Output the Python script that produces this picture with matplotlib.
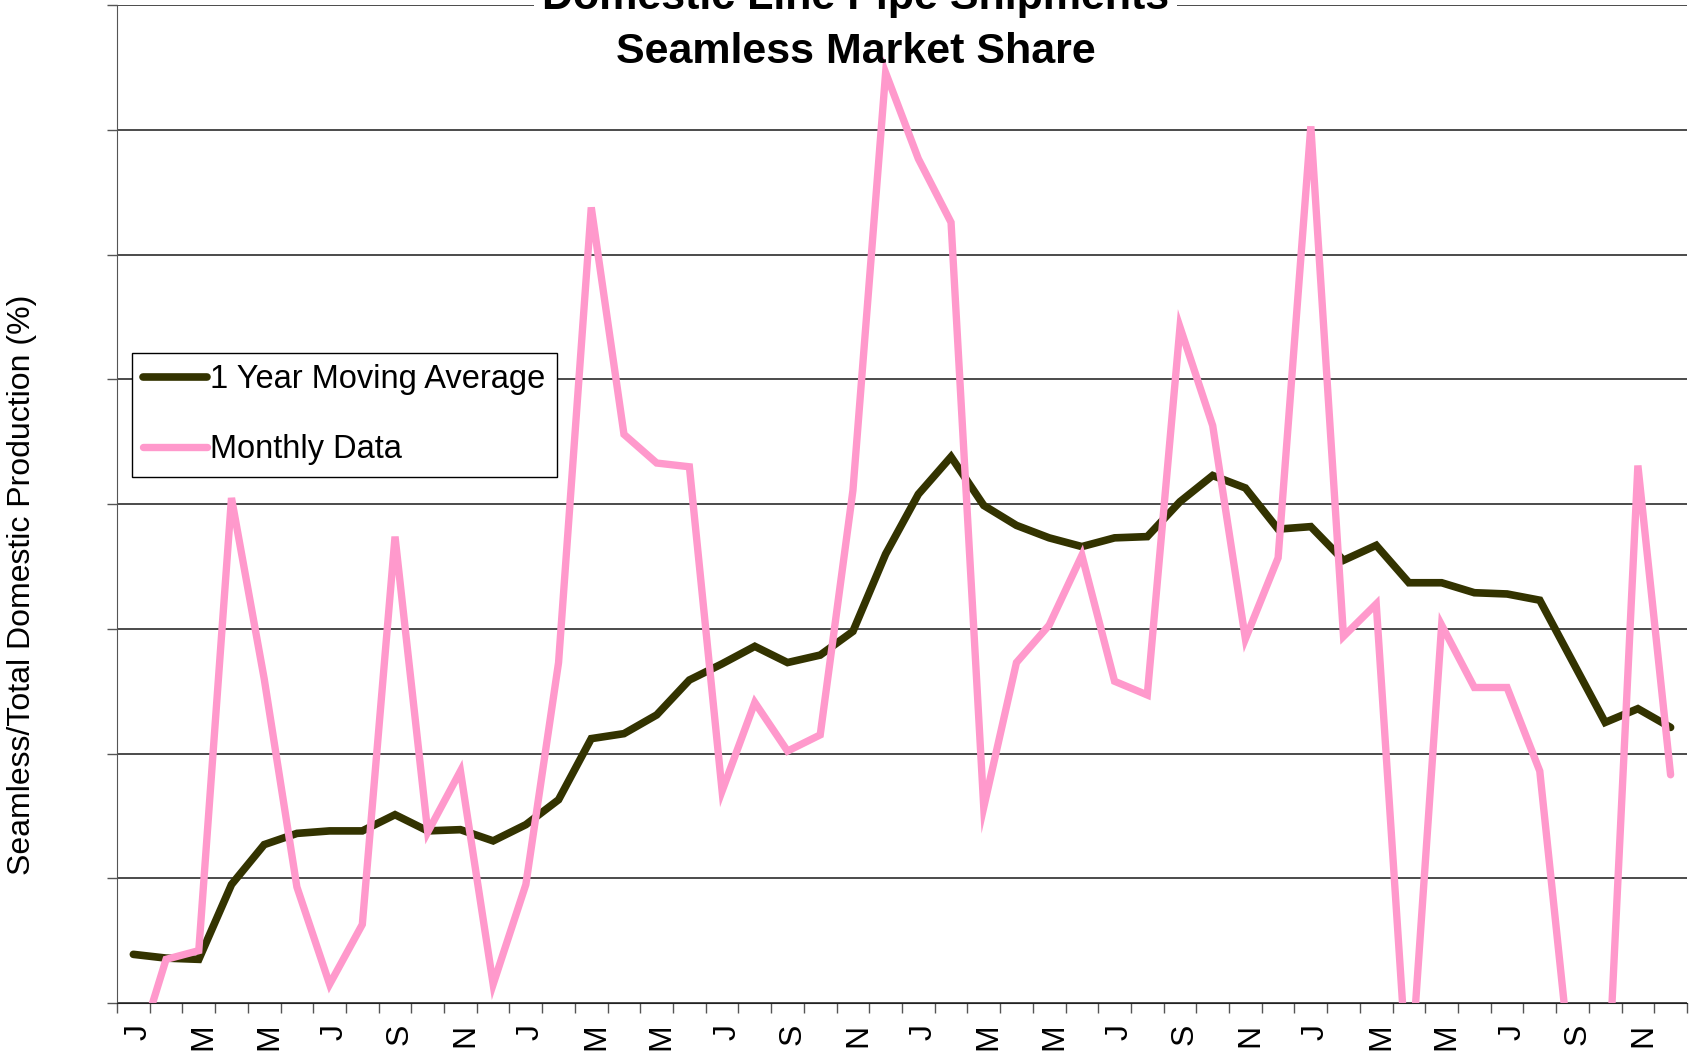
import numpy as np
import matplotlib
matplotlib.use("Agg")
import matplotlib.pyplot as plt
from matplotlib.transforms import ScaledTranslation

plt.rcParams['font.family'] = ['Liberation Sans', 'DejaVu Sans']

# month initials, 4 years of monthly data (labels shown every other month)
months = ["J", "F", "M", "A", "M", "J", "J", "A", "S", "O", "N", "D"] * 4

# 1 year moving average (%)
moving_avg = [3.9, 3.6, 3.5, 9.5, 12.7, 13.6, 13.8, 13.8, 15.1, 13.8, 13.9, 13.0,
              14.3, 16.3, 21.2, 21.6, 23.1, 25.9, 27.2, 28.6, 27.3, 27.9, 29.8, 36.0,
              40.8, 43.8, 39.9, 38.3, 37.3, 36.6, 37.3, 37.4, 40.2, 42.3, 41.3, 38.0,
              38.2, 35.5, 36.7, 33.7, 33.7, 32.9, 32.8, 32.3, 27.4, 22.5, 23.6, 22.1]

# monthly data (%)
monthly = [-5.0, 3.5, 4.2, 40.5, 26.0, 9.3, 1.5, 6.3, 37.4, 13.7, 18.6, 1.5,
           9.5, 27.3, 63.8, 45.6, 43.3, 43.0, 17.0, 24.1, 20.2, 21.5, 41.1, 74.6,
           67.7, 62.6, 15.7, 27.3, 30.3, 35.9, 25.8, 24.7, 54.2, 46.3, 29.2, 35.7,
           70.3, 29.4, 32.0, -7.8, 30.3, 25.3, 25.3, 18.6, -6.4, -11.4, 43.1, 18.3]

x = np.arange(len(monthly))

fig = plt.figure(figsize=(16.91, 10.57), dpi=100)
ax = fig.add_axes([0.0692, 0.0511, 0.9976 - 0.0692, 0.9949 - 0.0511])

ax.plot(x, moving_avg, color='#333300', linewidth=5.5, label="1 Year Moving Average",
        solid_joinstyle='miter', solid_capstyle='round')
ax.plot(x, monthly, color='#FF99CC', linewidth=5.3, label="Monthly Data",
        solid_joinstyle='miter', solid_capstyle='round')

ax.set_xlim(-0.5, len(monthly) - 0.5)
ax.set_ylim(0, 80)

# y axis: gridlines, no labels
ax.set_yticks(np.arange(0, 81, 10))
ax.set_yticklabels([])
ax.yaxis.grid(True, color='#1a1a1a', linewidth=1.1)
ax.set_axisbelow(True)
ax.tick_params(axis='y', length=7, width=1, color='#555555')

# x axis: tick marks between months, labels every other month
ax.set_xticks(np.arange(len(monthly) + 1) - 0.5)
ax.set_xticklabels([])
ax.set_xticks(x[::2], minor=True)
ax.set_xticklabels(months[::2], minor=True, rotation=90, fontsize=23)
ax.tick_params(axis='x', which='major', length=7.5, width=1, color='#555555')
ax.tick_params(axis='x', which='minor', length=0, pad=15)
shift = ScaledTranslation(5 / 100, 0, fig.dpi_scale_trans)
for lab in ax.get_xticklabels(minor=True):
    lab.set_transform(lab.get_transform() + shift)

for s in ['top', 'right']:
    ax.spines[s].set_visible(False)
ax.spines['left'].set_color('#555555')
ax.spines['bottom'].set_color('#222222')

fig.text(0.0128, 0.447, "Seamless/Total Domestic Production (%)", rotation=90,
         ha='center', va='center', fontsize=23)

fig.text(0.506, 0.9919, "Domestic Line Pipe Shipments", ha='center', va='baseline',
         fontsize=31, fontweight='bold',
         bbox=dict(facecolor='white', edgecolor='none', pad=6))
fig.text(0.506, 0.9404, "Seamless Market Share", ha='center', va='baseline',
         fontsize=31, fontweight='bold')

leg = ax.legend(loc='upper left', bbox_to_anchor=(0.0778, 0.6664),
                bbox_transform=fig.transFigure, fontsize=23.5, frameon=True,
                fancybox=False, framealpha=1, edgecolor='black',
                handlelength=1.95, handletextpad=0.1, borderpad=0.35,
                labelspacing=1.2, borderaxespad=0)
leg.get_frame().set_linewidth(1)

fig.savefig("out.png", dpi=100)
